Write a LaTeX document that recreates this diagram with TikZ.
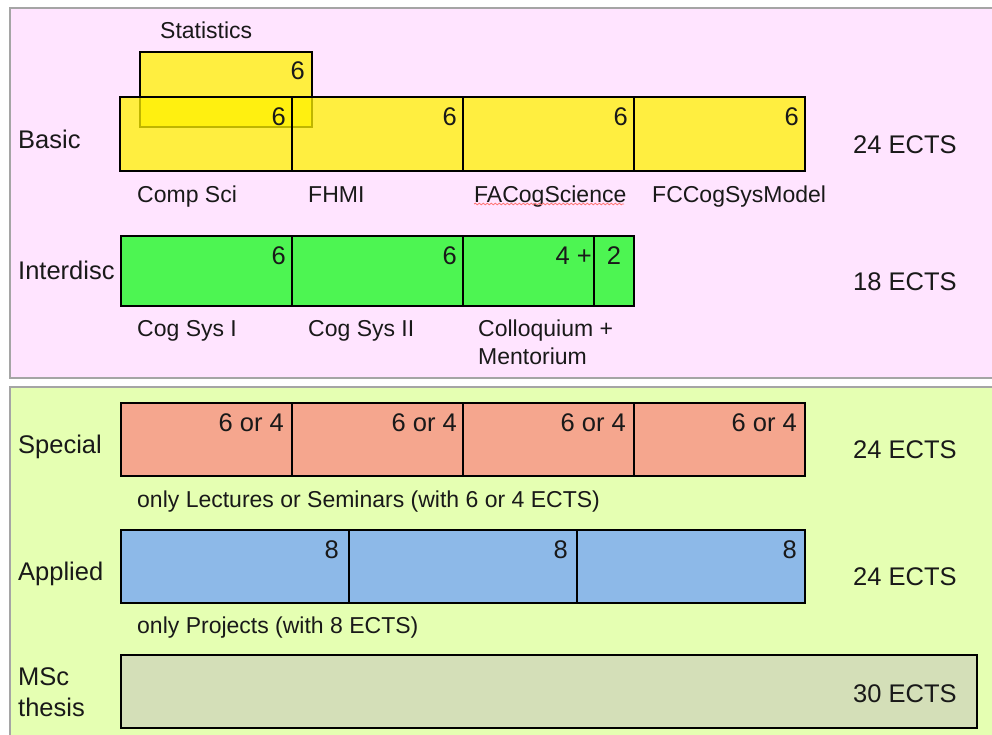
\documentclass[tikz,border=0pt]{standalone}
\usepackage{fontspec}
\setmainfont{Liberation Sans}
\usetikzlibrary{decorations.pathmorphing}

\definecolor{pinkbg}{RGB}{255,228,255}
\definecolor{greenbg}{RGB}{229,255,178}
\definecolor{panelline}{RGB}{165,165,165}
\definecolor{interfill}{RGB}{77,245,82}
\definecolor{specfill}{RGB}{245,166,142}
\definecolor{applfill}{RGB}{141,185,232}
\definecolor{thesisfill}{RGB}{212,223,184}
\definecolor{ink}{RGB}{25,25,25}

\begin{document}
\begin{tikzpicture}[x=1pt,y=-1pt,
    cell/.style={draw=black,line width=2.5pt},
    basiccell/.style={cell,fill=yellow,fill opacity=0.75},
    num/.style={anchor=base east,inner sep=0pt,text=ink,font=\fontsize{25.5}{30}\selectfont},
    rowname/.style={anchor=base west,inner sep=0pt,text=ink,font=\fontsize{25.5}{30}\selectfont},
    course/.style={anchor=base west,inner sep=0pt,text=ink,font=\fontsize{23}{28}\selectfont},
    ects/.style={anchor=base west,inner sep=0pt,text=ink,font=\fontsize{25.5}{30}\selectfont}]
    \useasboundingbox (0,0) rectangle (992,734);
    \clip (0,0) rectangle (992,734);

    % panels
    \draw[panelline,line width=2pt,fill=pinkbg] (10,8) rectangle (1010,378);
    \draw[panelline,line width=2pt,fill=greenbg] (10,387) rectangle (1010,760);

    % Basic
    \node[rowname] (basic) at (18,148) {Basic};
    \draw[basiccell] (140,52) rectangle (312,127);
    \node[num] (statn) at (305,79) {6};
    \node[course] (stat) at (160,38) {Statistics};

    \draw[basiccell] (120,97) rectangle (292,171);
    \draw[basiccell] (292,97) rectangle (463,171);
    \draw[basiccell] (463,97) rectangle (634,171);
    \draw[basiccell] (634,97) rectangle (805,171);
    \node[num] (b1) at (286,125) {6};
    \node[num] (b2) at (457,125) {6};
    \node[num] (b3) at (628,125) {6};
    \node[num] (b4) at (799,125) {6};
    \node[course] (compsci) at (137,202) {Comp Sci};
    \node[course] (fhmi) at (308,202) {FHMI};
    \node[course] (facog) at (474,202) {FACogScience};
    \draw[red!55,line width=0.8pt,decorate,decoration={snake,amplitude=0.8pt,segment length=4pt}]
        (474,204) -- (624,204);
    \node[course] (fccog) at (652,202) {FCCogSysModel};
    \node[ects] (basicects) at (853,153) {24 ECTS};

    % Interdisc
    \node[rowname] (inter) at (18,279) {Interdisc};
    \draw[cell,fill=interfill] (121,236) rectangle (292,306);
    \draw[cell,fill=interfill] (292,236) rectangle (463,306);
    \draw[cell,fill=interfill] (463,236) rectangle (594,306);
    \draw[cell,fill=interfill] (594,236) rectangle (634,306);
    \node[num] (i1) at (286,264) {6};
    \node[num] (i2) at (457,264) {6};
    \node[num] (i3) at (592,264) {4 +};
    \node[num,anchor=base] (i4) at (614,264) {2};
    \node[course] (cogsys1) at (137,336) {Cog Sys I};
    \node[course] (cogsys2) at (308,336) {Cog Sys II};
    \node[course] (coll) at (478,336) {Colloquium +};
    \node[course] (ment) at (478,364) {Mentorium};
    \node[ects] (interects) at (853,290) {18 ECTS};

    % Special
    \node[rowname] (special) at (18,453) {Special};
    \draw[cell,fill=specfill] (121,403) rectangle (292,476);
    \draw[cell,fill=specfill] (292,403) rectangle (463,476);
    \draw[cell,fill=specfill] (463,403) rectangle (634,476);
    \draw[cell,fill=specfill] (634,403) rectangle (805,476);
    \node[num] (s1) at (284,431) {6 or 4};
    \node[num] (s2) at (457,431) {6 or 4};
    \node[num] (s3) at (626,431) {6 or 4};
    \node[num] (s4) at (797,431) {6 or 4};
    \node[course] (specnote) at (137,507) {only Lectures or Seminars (with 6 or 4 ECTS)};
    \node[ects] (specects) at (853,458) {24 ECTS};

    % Applied
    \node[rowname] (applied) at (18,580) {Applied};
    \draw[cell,fill=applfill] (121,530) rectangle (349,603);
    \draw[cell,fill=applfill] (349,530) rectangle (577,603);
    \draw[cell,fill=applfill] (577,530) rectangle (805,603);
    \node[num] (a1) at (339,558) {8};
    \node[num] (a2) at (568,558) {8};
    \node[num] (a3) at (797,558) {8};
    \node[course] (applnote) at (137,633) {only Projects (with 8 ECTS)};
    \node[ects] (applects) at (853,585) {24 ECTS};

    % MSc thesis
    \node[rowname] (msc) at (18,685) {MSc};
    \node[rowname] (thesis) at (18,716) {thesis};
    \draw[cell,fill=thesisfill] (121,655) rectangle (977,728);
    \node[ects] (thesisects) at (853,702) {30 ECTS};
\end{tikzpicture}
\end{document}
